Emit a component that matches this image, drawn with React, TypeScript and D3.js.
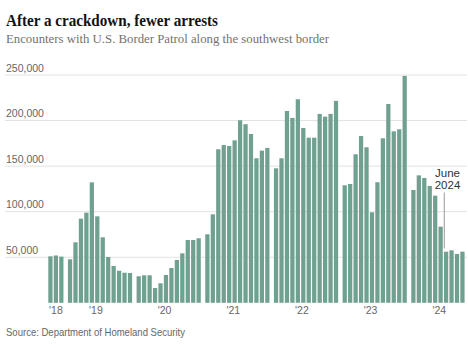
import React from "react";
import * as d3 from "d3";

const years = ["2018", "2019", "2020", "2021", "2022", "2023", "2024"];
const yearLabels = ["'18", "'19", "'20", "'21", "'22", "'23", "'24"];
// Monthly encounters per calendar year (2018 starts in October, 2024 ends in October)
const v2018 = [51000, 51900, 50700];
const v2019 = [47700, 66400, 92300, 98900, 132200, 94900, 71900, 50300, 40400, 35200, 33000, 32700];
const v2020 = [29100, 30200, 30200, 16200, 21400, 30500, 38200, 47000, 54300, 68900, 68900, 70800];
const v2021 = [75200, 97100, 168500, 173200, 172100, 178300, 200300, 196000, 185300, 158600, 167000, 170000];
const v2022 = [147600, 158600, 210500, 202900, 223400, 191900, 181200, 181200, 207300, 204300, 207300, 221600];
const v2023 = [129000, 130400, 163000, 183000, 170700, 99300, 132300, 180500, 218200, 188200, 190400, 249000];
const v2024 = [123800, 139900, 137000, 128200, 117600, 83600, 56100, 57600, 53600, 56100];
const yTicks = [50000, 100000, 150000, 200000, 250000];
const annotationLines = ["June", "2024"];
const annotationYear = 6;
const annotationMonth = 6;

const series = [v2018, v2019, v2020, v2021, v2022, v2023, v2024];

export default function App() {
  const W = 468;
  const H = 348;
  const gapSlots = 0.6;
  const bars: { x: number; v: number; yi: number; mi: number }[] = [];
  let slot = 0;
  const groupInfo: { start: number; n: number }[] = [];
  series.forEach((vals, yi) => {
    if (yi > 0) slot += gapSlots;
    groupInfo.push({ start: slot, n: vals.length });
    vals.forEach((v, mi) => {
      bars.push({ x: slot, v, yi, mi });
      slot += 1;
    });
  });
  const totalSlots = slot;
  const x = d3.scaleLinear().domain([0, totalSlots]).range([48.3, 48.3 + totalSlots * 5.45]);
  const y = d3.scaleLinear().domain([0, 250000]).range([302.8, 75]);
  const bw = 5.45 * 0.78;
  const fmt = d3.format(",");
  const sans = "'Liberation Sans', Arial, sans-serif";
  const serif = "'Liberation Serif', 'Times New Roman', serif";
  const color = "#70a190";

  const labelX = (yi: number) => {
    const g = groupInfo[yi];
    const mid = g.n < 12 && yi === 0 ? (g.n - 1) / 2 : 4.75;
    return x(g.start + mid) + bw / 2;
  };

  const annBar = bars.find((b) => b.yi === annotationYear && b.mi === annotationMonth)!;
  const annX = x(annBar.x) + 0.3;

  return (
    <svg
      width={W}
      height={H}
      style={{ position: "absolute", left: 0, top: 0, background: "#fff" }}
    >
      <text x={6} y={25.5} fontFamily={serif} fontWeight="bold" fontSize={17.5} fill="#121212" textLength={212} lengthAdjust="spacingAndGlyphs">
        After a crackdown, fewer arrests
      </text>
      <text x={6} y={42.7} fontFamily={serif} fontSize={12.5} fill="#727272" textLength={323} lengthAdjust="spacingAndGlyphs">
        Encounters with U.S. Border Patrol along the southwest border
      </text>
      {yTicks.map((t) => (
        <g key={t}>
          <line x1={5} x2={467} y1={y(t)} y2={y(t)} stroke="#e2e2e2" strokeWidth={1} />
          <text x={6} y={y(t) - 3.2} fontFamily={sans} fontSize={10.5} fill="#666">
            {fmt(t)}
          </text>
        </g>
      ))}
      {bars.map((b, i) => (
        <rect key={i} x={x(b.x)} width={bw} y={y(b.v)} height={y(0) - y(b.v)} fill={color} />
      ))}
      {years.map((yr, yi) => (
        <text key={yr} x={labelX(yi)} y={313.5} textAnchor="middle" fontFamily={sans} fontSize={10.5} fill="#666">
          {yearLabels[yi]}
        </text>
      ))}
      <line x1={annX} x2={annX} y1={192.5} y2={248.5} stroke="#999" strokeWidth={1} />
      {annotationLines.map((t, i) => (
        <text key={t} x={447.5} y={176.8 + i * 12.4} textAnchor="middle" fontFamily={sans} fontSize={11.5} fill="#333">
          {t}
        </text>
      ))}
      <text x={6} y={336} fontFamily={sans} fontSize={11} fill="#666" textLength={179} lengthAdjust="spacingAndGlyphs">
        Source: Department of Homeland Security
      </text>
    </svg>
  );
}
